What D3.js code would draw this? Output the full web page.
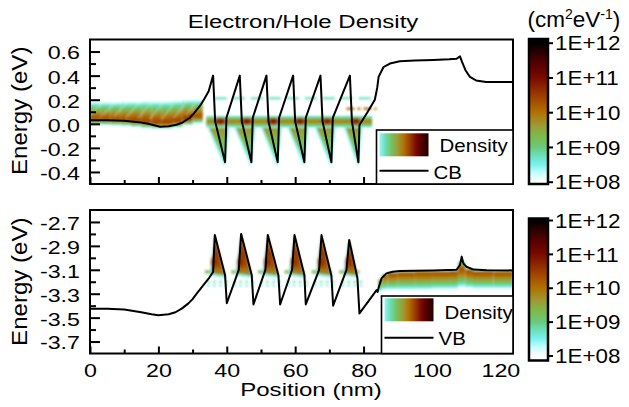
<!DOCTYPE html>
<html><head><meta charset="utf-8">
<script src="https://cdn.jsdelivr.net/npm/d3@7"></script>
<style>body{margin:0;background:#fff}svg{display:block}</style>
</head><body><svg id="c" width="629" height="407"></svg>
<script>
// ---------------- data ----------------
const xMajorTicks=[0,20,40,60,80,100,120];
const xMinorTicks=[10,30,50,70,90,110];
const topYMajor=[0.6,0.4,0.2,0.0,-0.2,-0.4];
const topYMinor=[0.5,0.3,0.1,-0.1,-0.3];
const botYMajor=[-2.7,-2.9,-3.1,-3.3,-3.5,-3.7];
const botYMinor=[-2.8,-3.0,-3.2,-3.4,-3.6];
const cbarLogs=[8,9,10,11,12];
const cbarLabels=["1E+08","1E+09","1E+10","1E+11","1E+12"];

// conduction band [position nm, energy eV]
const cbCurve=[[0,0.03],[5,0.03],[10,0.025],[15,0.01],[17,0.0],[20.5,-0.024],[23,-0.02],[25.3,-0.008],[27,0.01],[29.2,0.05],[30.5,0.09],[32.2,0.15],[33.5,0.21],[34.7,0.27],[36.0,0.40],
[36.6,0.02],[39.5,-0.32],[39.9,0.05],[43.8,0.40],[44.4,0.02],[47.2,-0.32],[47.6,0.05],[51.6,0.40],[52.2,0.02],[54.9,-0.32],[55.3,0.05],[59.4,0.40],[60.0,0.02],[62.7,-0.32],[63.1,0.05],[67.4,0.40],[68.0,0.02],[70.6,-0.32],[71.0,0.05],[76.0,0.40],[76.6,0.02],[78.5,-0.32],[78.8,-0.01],
[81.0,0.09],[83.3,0.20],[84.0,0.30],[84.4,0.39],[85.8,0.47],[87.7,0.50],[90.6,0.52],[95,0.525],[100.4,0.53],[105,0.535],[107.2,0.54],[108.2,0.56],[108.8,0.514],[109.8,0.445],[111.1,0.39],[112.9,0.36],[115.8,0.347],[123.7,0.347]];

// valence band [position nm, energy eV]
const vbCurve=[[0,-3.425],[5,-3.425],[10,-3.433],[15,-3.455],[18,-3.472],[20,-3.48],[23,-3.472],[25,-3.455],[26.8,-3.425],[28.7,-3.383],[30,-3.345],[31.2,-3.30],[33.1,-3.23],[34.9,-3.165],[36.0,-3.118],
[36.5,-2.81],[39.5,-3.145],[40.0,-3.38],[43.5,-3.10],[44.2,-2.80],[47.3,-3.145],[47.8,-3.39],[51.3,-3.10],[52.0,-2.81],[55.1,-3.145],[55.6,-3.39],[59.1,-3.10],[59.8,-2.81],[62.7,-3.145],[63.1,-3.39],[67.0,-3.10],[67.7,-2.81],[70.6,-3.15],[71.1,-3.40],[75.0,-3.10],[75.8,-2.85],[78.2,-3.17],[78.8,-3.465],
[81.5,-3.36],[83.8,-3.27],[84.1,-3.285],[84.5,-3.24],[85.3,-3.17],[86.7,-3.13],[88.5,-3.117],[90.6,-3.11],[100.4,-3.105],[107.2,-3.10],[108.2,-3.06],[108.7,-2.99],[109.2,-3.047],[110.1,-3.075],[112.1,-3.098],[116,-3.104],[123.7,-3.105]];

// electron density bands [x0, x1, eBottom, eCore, eTop, log10 peak]
const topLeftBands=[[0,3,-0.015,0.04,0.19,10.3],[3,6,-0.015,0.04,0.19,10.3],[6,9,-0.018,0.038,0.19,10.3],[9,12,-0.022,0.034,0.195,10.3],[12,15,-0.03,0.027,0.195,10.4],[15,18,-0.04,0.018,0.2,10.4],[18,21,-0.045,0.01,0.2,10.4],[21,24,-0.045,0.01,0.2,10.4],[24,27,-0.035,0.02,0.205,10.4],[27,30,-0.015,0.04,0.21,10.5],[30,33,0.0,0.06,0.21,10.3]];
// light diagonal streaks in the left band [startX, startE, endX, endE]
const topLeftStreaks=[[0,0.07,4,0.19],[3.5,0.07,8,0.19],[7,0.06,11.5,0.195],[10.5,0.05,15,0.195],[14,0.045,18.5,0.2],[17.5,0.04,22,0.2],[21,0.04,25.5,0.205],[24.5,0.05,29,0.21],[28,0.07,32,0.21]];
const topWellBand=[[34.0,82.5,-0.04,0.02,0.075,9.9]];
// well cores [x0, x1, eCore, log10 peak]
const topCores=[[35.8,40.4,0.02,11.0],[43.6,48.1,0.02,11.0],[51.4,55.8,0.02,11.0],[59.2,63.6,0.02,11.0],[67.2,71.5,0.02,10.9],[75.8,79.6,0.02,10.9]];
// well V tails [leftTopX, rightTopX, apexX, apexE]
const topWellV=[[34.4,40.2,39.3,-0.31],[42.2,47.9,47.0,-0.31],[50.0,55.6,54.7,-0.31],[57.8,63.4,62.5,-0.31],[65.8,71.3,70.4,-0.31],[74.4,79.1,78.3,-0.31]];
const wellVLogs=[9.8,9.4,9.0,8.6];
// levels [x0, x1, energy, log10]
const topLevels=[[36.5,83.5,0.213,8.7],[75.0,83.8,0.125,10.0]];

// hole density: teeth [leftX, peakX, peakE, rightX]
const botTeeth=[[36.0,36.5,-2.81,39.5],[43.5,44.2,-2.80,47.3],[51.3,52.0,-2.81,55.1],[59.1,59.8,-2.81,62.7],[67.0,67.7,-2.81,70.6],[75.0,75.8,-2.85,78.2]];
const toothLogs=[10.0,10.3,10.6,10.3,9.6];
// streaks under teeth [energy, log10, start offset, end offset]
const botStreaks=[[-3.118,9.4,-2.9,3.0],[-3.2,8.8,-2.3,4.5],[-3.232,8.6,-2.3,4.5]];
const botBands=[[84.3,85.5,-3.29,-3.19,-3.17,9.9],[85.5,87,-3.28,-3.15,-3.13,10.2],[87,90,-3.28,-3.132,-3.117,10.3],[90,95,-3.28,-3.125,-3.11,10.3],[95,100,-3.28,-3.122,-3.107,10.3],[100,105,-3.275,-3.12,-3.105,10.3],[105,107.6,-3.275,-3.117,-3.1,10.3],[107.6,109.8,-3.26,-3.09,-3.02,10.3],[109.8,112,-3.265,-3.11,-3.08,10.3],[112,118,-3.27,-3.12,-3.1,10.3],[118,123.7,-3.27,-3.122,-3.106,10.3]];

// ---------------- styles ----------------
const FONT='"Liberation Sans", Arial, sans-serif';
const paletteLogs=[8,8.25,8.5,8.8,9,9.3,9.6,10,10.5,11,11.5,12];
const paletteHex=["#ffffff","#c4fdfd","#78f2ee","#6adcb0","#6cc878","#7cbc4c","#9c9c38","#b27000","#9a3a00","#7a0800","#4a0000","#000000"];
const color=d3.scaleLinear().domain(paletteLogs).range(paletteHex).clamp(true);
const alpha=lg=>Math.max(0,Math.min(1,(lg-8)/0.5));

const svg=d3.select("#c");
const defs=svg.append("defs");
const xs=d3.scaleLinear().domain([0,123.7]).range([90,513]);
const yTop=d3.scaleLinear().domain([-0.5,0.7]).range([184,39.5]);
const yBot=d3.scaleLinear().domain([-3.8,-2.6]).range([353.5,210]);
const panels=[{y:yTop,t:39.5,b:184,id:"t"},{y:yBot,t:210,b:353.5,id:"b"}];

defs.append("filter").attr("id","soft").attr("filterUnits","userSpaceOnUse").attr("x",80).attr("y",30).attr("width",450).attr("height",340)
  .append("feGaussianBlur").attr("stdDeviation",0.8);
panels.forEach(p=>defs.append("clipPath").attr("id","clip"+p.id).append("rect")
  .attr("x",90).attr("y",p.t).attr("width",423).attr("height",p.b-p.t));

let gid=0;
function grad(stops,dir){
  const id="g"+(gid++);
  const g=defs.append("linearGradient").attr("id",id).attr("x1",0).attr("y1",0)
    .attr("x2",dir==="h"?1:0).attr("y2",dir==="h"?0:1);
  stops.forEach(s=>g.append("stop").attr("offset",s.o).attr("stop-color",color(s.lg)).attr("stop-opacity",s.a==null?alpha(s.lg):s.a));
  return `url(#${id})`;
}
function radial(peak){
  const id="g"+(gid++);
  const g=defs.append("radialGradient").attr("id",id);
  [[0,peak,1],[0.35,peak-0.2,1],[0.65,10.4,0.7],[1,10.2,0]].forEach(([o,lg,a])=>
    g.append("stop").attr("offset",o).attr("stop-color",color(lg)).attr("stop-opacity",a));
  return `url(#${id})`;
}
function bandStops(eTop,eCore,eBot,pk){
  const tc=(eTop-eCore)/(eTop-eBot),st=[],n=10,prof=f=>8+(pk-8)*(1-Math.pow(1-f,1.3));
  for(let i=0;i<=n;i++){const f=i/n;st.push({o:tc*f,lg:prof(f)});}
  for(let i=n-1;i>=0;i--){const f=i/n;st.push({o:tc+(1-tc)*(1-f),lg:prof(f)});}
  return st;
}
function drawBands(g,y,bands){
  bands.forEach(([x0,x1,eB,eC,eT,pk])=>{
    g.append("rect").attr("x",xs(x0)).attr("width",xs(x1)-xs(x0)).attr("y",y(eT)).attr("height",y(eB)-y(eT))
      .attr("fill",grad(bandStops(eT,eC,eB,pk)));
  });
}
function triPath(pts,yy){return "M"+pts.map(q=>xs(q[0]).toFixed(2)+","+yy(q[1]).toFixed(2)).join("L")+"Z";}

// ---------- top panel density ----------
const cT=svg.append("g").attr("clip-path","url(#clipt)");
const dT=cT.append("g").attr("filter","url(#soft)");
drawBands(dT,yTop,topLeftBands);
topLeftStreaks.forEach(([x0,e0,x1,e1])=>{
  dT.append("line").attr("x1",xs(x0)).attr("y1",yTop(e0)).attr("x2",xs(x1)).attr("y2",yTop(e1))
    .attr("stroke","#e8ffff").attr("stroke-width",1.4).attr("stroke-opacity",0.35);
});
const vFill=grad(wellVLogs.map((lg,i)=>({o:i/(wellVLogs.length-1),lg,a:1})));
topWellV.forEach(([l,r,ax,ae])=>{
  dT.append("path").attr("d",triPath([[l-0.8,0.02],[r+0.8,0.02],[ax+0.1,ae-0.05]],yTop)).attr("fill",color(8.5)).attr("fill-opacity",0.8);
  dT.append("path").attr("d",triPath([[l,0.0],[r,0.0],[ax,ae]],yTop)).attr("fill",vFill);
});
drawBands(dT,yTop,topWellBand);
topLevels.forEach(([x0,x1,e,lg],i)=>{
  dT.append("line").attr("x1",xs(x0)).attr("x2",xs(x1)).attr("y1",yTop(e)).attr("y2",yTop(e))
    .attr("stroke",color(lg)).attr("stroke-width",2.5).attr("stroke-dasharray",i?"8,3,3,3":"12,6").attr("opacity",0.9);
});
topCores.forEach(([x0,x1,e,pk])=>{
  dT.append("ellipse").attr("cx",xs((x0+x1)/2)).attr("cy",yTop(e)).attr("rx",(xs(x1)-xs(x0))/2).attr("ry",yTop(e-0.04)-yTop(e)).attr("fill",radial(pk));
});

// ---------- bottom panel density ----------
const dB=svg.append("g").attr("clip-path","url(#clipb)").append("g").attr("filter","url(#soft)");
botTeeth.forEach(t=>{
  const p=t[1];
  botStreaks.forEach(([e,lg,s0,s1],i)=>{
    dB.append("line").attr("x1",xs(p+s0)).attr("x2",xs(p+s1)).attr("y1",yBot(e)).attr("y2",yBot(e))
      .attr("stroke",color(lg)).attr("stroke-width",i?2:3.5).attr("stroke-dasharray",i?"3,3":null).attr("opacity",0.85);
  });
});
const toothFill=grad(toothLogs.map((lg,i)=>({o:i/(toothLogs.length-1),lg,a:1})));
botTeeth.forEach(([l,p,pe,r])=>{
  dB.append("path").attr("d",triPath([[l-1.2,-3.15],[p-0.1,pe-0.015],[r+0.5,-3.17]],yBot)).attr("fill",color(8.5)).attr("fill-opacity",0.85);
  dB.append("path").attr("d",triPath([[l-0.6,-3.13],[p,pe],[r,-3.15]],yBot)).attr("fill",toothFill);
  dB.append("ellipse").attr("cx",xs(p-0.1)).attr("cy",yBot(-3.035)).attr("rx",xs(1.4)-xs(0)).attr("ry",yBot(-3.1)-yBot(-3.035)).attr("fill",radial(10.8));
});
drawBands(dB,yBot,botBands);

// ---------- band lines ----------
const bandLine=d3.line().x(d=>xs(d[0]));
svg.append("path").attr("d",bandLine.y(d=>yTop(d[1]))(cbCurve)).attr("fill","none").attr("stroke","#000").attr("stroke-width",2).attr("stroke-linejoin","round");
svg.append("path").attr("d",bandLine.y(d=>yBot(d[1]))(vbCurve)).attr("fill","none").attr("stroke","#000").attr("stroke-width",2).attr("stroke-linejoin","round");

// ---------- axes ----------
function styleText(sel,size,sx){sel.attr("font-size",size).attr("font-family",FONT).attr("fill","#000").attr("transform",`scale(${sx},1)`);}
panels.forEach((p,pi)=>{
  const major=pi?botYMajor:topYMajor, minor=pi?botYMinor:topYMinor;
  const am=svg.append("g").attr("transform","translate(90,0)").call(d3.axisLeft(p.y).tickValues(minor).tickSizeInner(-6).tickSizeOuter(0).tickFormat(""));
  am.select(".domain").remove(); am.selectAll("line").attr("stroke-width",2);
  const aM=svg.append("g").attr("transform","translate(90,0)").call(d3.axisLeft(p.y).tickValues(major).tickSizeInner(-10).tickSizeOuter(0).tickPadding(8).tickFormat(d=>d.toFixed(1)));
  aM.select(".domain").remove(); aM.selectAll("line").attr("stroke-width",2);
  styleText(aM.selectAll("text").attr("dy","0.4em"),18.6,1.25);
  const bm=svg.append("g").attr("transform",`translate(0,${p.b})`).call(d3.axisBottom(xs).tickValues(xMinorTicks).tickSizeInner(-4).tickSizeOuter(0).tickFormat(""));
  bm.select(".domain").remove(); bm.selectAll("line").attr("stroke-width",2);
  const bM=svg.append("g").attr("transform",`translate(0,${p.b})`).call(d3.axisBottom(xs).tickValues(xMajorTicks).tickSizeInner(-7).tickSizeOuter(0).tickPadding(10).tickFormat(pi?d3.format("d"):""));
  bM.select(".domain").remove(); bM.selectAll("line").attr("stroke-width",2);
  styleText(bM.selectAll("text"),18.6,1.25);
  svg.append("rect").attr("x",90).attr("y",p.t).attr("width",423).attr("height",p.b-p.t).attr("fill","none").attr("stroke","#000").attr("stroke-width",2);
  svg.append("text").attr("transform",`translate(27,${pi?281.7:110.8}) rotate(-90) scale(1.12,1)`).attr("text-anchor","middle")
    .attr("font-size",21.5).attr("font-family",FONT).text("Energy (eV)");
});

// ---------- colorbars ----------
const cbarGeo=[{t:39,b:184,r:[181.7,42.7]},{t:218.5,b:360.5,r:[355.5,220]}];
cbarGeo.forEach(c=>{
  const s=d3.scaleLinear().domain([8,12]).range(c.r);
  const h=c.b-c.t;
  const stops=[{o:0,lg:12,a:1}].concat(paletteLogs.slice().reverse().map(lg=>({o:(s(lg)-c.t)/h,lg,a:1}))).concat([{o:1,lg:8,a:1}]);
  svg.append("rect").attr("x",529).attr("y",c.t).attr("width",19).attr("height",h).attr("fill",grad(stops)).attr("stroke","#000").attr("stroke-width",2.5);
  const a=svg.append("g").attr("transform","translate(548,0)").call(d3.axisRight(s).tickValues(cbarLogs).tickSizeInner(5).tickSizeOuter(0).tickPadding(1.3).tickFormat((d,i)=>cbarLabels[i]));
  a.select(".domain").remove(); a.selectAll("line").attr("stroke-width",2);
  styleText(a.selectAll("text").attr("dy","0.36em"),20,1.12);
});
const ct=svg.append("text").attr("x",527.5).attr("y",27).attr("font-size",22.5).attr("font-family",FONT);
ct.append("tspan").text("(cm");
ct.append("tspan").attr("dy",-8.5).attr("font-size",14).text("2");
ct.append("tspan").attr("dy",8.5).text("eV");
ct.append("tspan").attr("dy",-8.5).attr("font-size",14).text("-1");
ct.append("tspan").attr("dy",8.5).text(")");

// ---------- legends ----------
const legendStops=[8.4,8.8,9.2,9.6,10,10.5,11,11.5,11.8].map((lg,i,arr)=>({o:i/(arr.length-1),lg,a:1}));
const legends=[{x:376.5,y:130,sy:133.3,ly:170.7,ty1:152,ty2:178.5,label:"CB",b:184},{x:381.5,y:296,sy:298.3,ly:337.7,ty1:318.5,ty2:344.5,label:"VB",b:353.5}];
legends.forEach(L=>{
  svg.append("rect").attr("x",L.x).attr("y",L.y).attr("width",513-L.x).attr("height",L.b-L.y).attr("fill","#fff").attr("stroke","#000").attr("stroke-width",1.6);
  svg.append("rect").attr("x",L.x+3).attr("y",L.sy).attr("width",49).attr("height",23).attr("fill",grad(legendStops,"h"));
  svg.append("line").attr("x1",L.x+3).attr("x2",L.x+52).attr("y1",L.ly).attr("y2",L.ly).attr("stroke","#000").attr("stroke-width",2);
  svg.append("text").attr("transform",`translate(${L.x+63},${L.ty1}) scale(1.17,1)`).attr("font-size",17.5).attr("font-family",FONT).text("Density");
  svg.append("text").attr("transform",`translate(${L.x+57},${L.ty2}) scale(1.17,1)`).attr("font-size",17.5).attr("font-family",FONT).text(L.label);
});

// ---------- titles ----------
svg.append("text").attr("transform","translate(303,28.3) scale(1.29,1)").attr("text-anchor","middle").attr("font-size",18.6).attr("font-family",FONT).text("Electron/Hole Density");
svg.append("text").attr("transform","translate(311,396) scale(1.3,1)").attr("text-anchor","middle").attr("font-size",18.5).attr("font-family",FONT).text("Position (nm)");
</script></body></html>
